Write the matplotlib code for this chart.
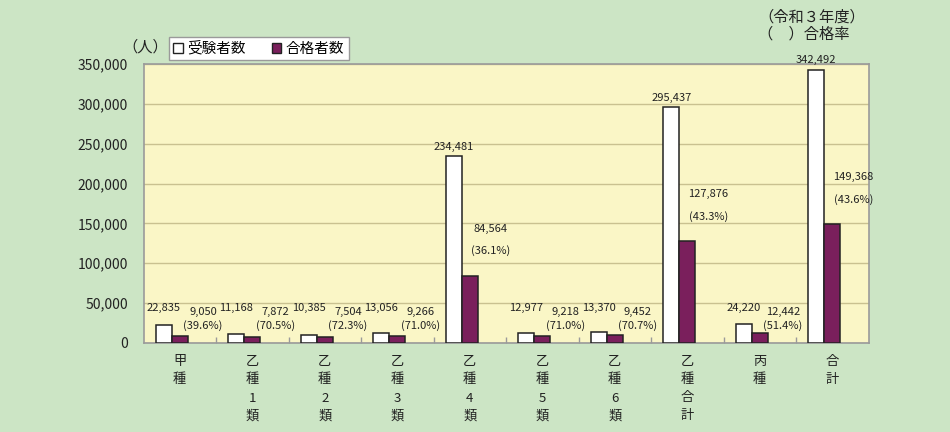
import matplotlib
matplotlib.use("Agg")
import matplotlib.pyplot as plt
from matplotlib.patches import Rectangle
from matplotlib.ticker import FuncFormatter, FixedLocator

plt.rcParams['font.family'] = ['Noto Sans CJK JP', 'DejaVu Sans']

categories = ["甲\n種", "乙\n種\n1\n類", "乙\n種\n2\n類", "乙\n種\n3\n類", "乙\n種\n4\n類",
              "乙\n種\n5\n類", "乙\n種\n6\n類", "乙\n種\n合\n計", "丙\n種", "合\n計"]
examinees = [22835, 11168, 10385, 13056, 234481, 12977, 13370, 295437, 24220, 342492]
passed = [9050, 7872, 7504, 9266, 84564, 9218, 9452, 127876, 12442, 149368]
pass_rate = [39.6, 70.5, 72.3, 71.0, 36.1, 71.0, 70.7, 43.3, 51.4, 43.6]
yticks = [0, 50000, 100000, 150000, 200000, 250000, 300000, 350000]

BG = "#cce5c5"
PLOT_BG = "#faf6c6"
PURPLE = "#7a1f5c"
GRID = "#c9c190"
EDGE = "#9a9a9a"
TXT = "#222222"

fig = plt.figure(figsize=(9.5, 4.32), dpi=100, facecolor=BG)
ax = fig.add_axes([143.5 / 950, 89 / 432, 725 / 950, 279 / 432], facecolor=PLOT_BG)

w = 0.22
xs = list(range(len(categories)))
ax.bar([x - w for x in xs], examinees, width=w, align="center",
       color="white", edgecolor=TXT, linewidth=1.1, zorder=3)
ax.bar(xs, passed, width=w, align="center",
       color=PURPLE, edgecolor=TXT, linewidth=1.1, zorder=3)

ax.set_xlim(-0.5, len(categories) - 0.5)
ax.set_ylim(0, 350000)
ax.yaxis.set_major_locator(FixedLocator(yticks))
ax.yaxis.set_major_formatter(FuncFormatter(lambda v, p: f"{int(v):,}"))
ax.grid(axis="y", color=GRID, linewidth=1.0, zorder=1)
ax.tick_params(axis="y", length=0, pad=11, labelsize=10, colors=TXT)

ax.set_xticks(xs)
ax.set_xticklabels(categories, fontsize=9.5, linespacing=1.5, va="top")
ax.tick_params(axis="x", which="major", length=0, pad=9, colors=TXT)
ax.set_xticks([x + 0.5 for x in xs[:-1]], minor=True)
ax.tick_params(axis="x", which="minor", direction="in", length=4, color=EDGE, width=1)

for s in ax.spines.values():
    s.set_color(EDGE)
    s.set_linewidth(1.2)

# labels for examinees
for x, v in zip(xs, examinees):
    ypos = max(v + 12000, 44000)
    ax.text(x - w, ypos, f"{v:,}", ha="center", va="center", fontsize=8, color=TXT, zorder=4)

# labels for passed and rate
for x, v, r in zip(xs, passed, pass_rate):
    if v > 50000:
        y1, y2, dx = v + 59000, v + 31000, 0.29
    else:
        y1, y2, dx = 39000, 21300, 0.32
    ax.text(x + dx, y1, f"{v:,}", ha="center", va="center", fontsize=8, color=TXT, zorder=4)
    ax.text(x + dx, y2, f"({r:.1f}%)", ha="center", va="center", fontsize=8, color=TXT, zorder=4)

handles = [Rectangle((0, 0), 1, 1, facecolor="white", edgecolor=TXT, linewidth=1.0),
           Rectangle((0, 0), 1, 1, facecolor=PURPLE, edgecolor=TXT, linewidth=1.0)]
leg = fig.legend(handles, ["受験者数", "合格者数"], loc="upper left",
                 bbox_to_anchor=(169 / 950, 1 - 37 / 432), ncol=2, fontsize=10.5,
                 frameon=True, fancybox=False, edgecolor=EDGE, facecolor="white",
                 handlelength=0.65, handleheight=0.65, handletextpad=0.3,
                 columnspacing=1.8, borderpad=0.3, borderaxespad=0, framealpha=1)
leg.get_frame().set_linewidth(1.0)

fig.text(145 / 950, 1 - 47 / 432, "（人）", ha="center", va="center", fontsize=11, color=TXT)
fig.text(758 / 950, 1 - 17 / 432, "（令和３年度）", ha="left", va="center", fontsize=11, color=TXT)
fig.text(758 / 950, 1 - 34 / 432, "（　）合格率", ha="left", va="center", fontsize=11, color=TXT)

fig.savefig("out.png", dpi=100, facecolor=BG)
